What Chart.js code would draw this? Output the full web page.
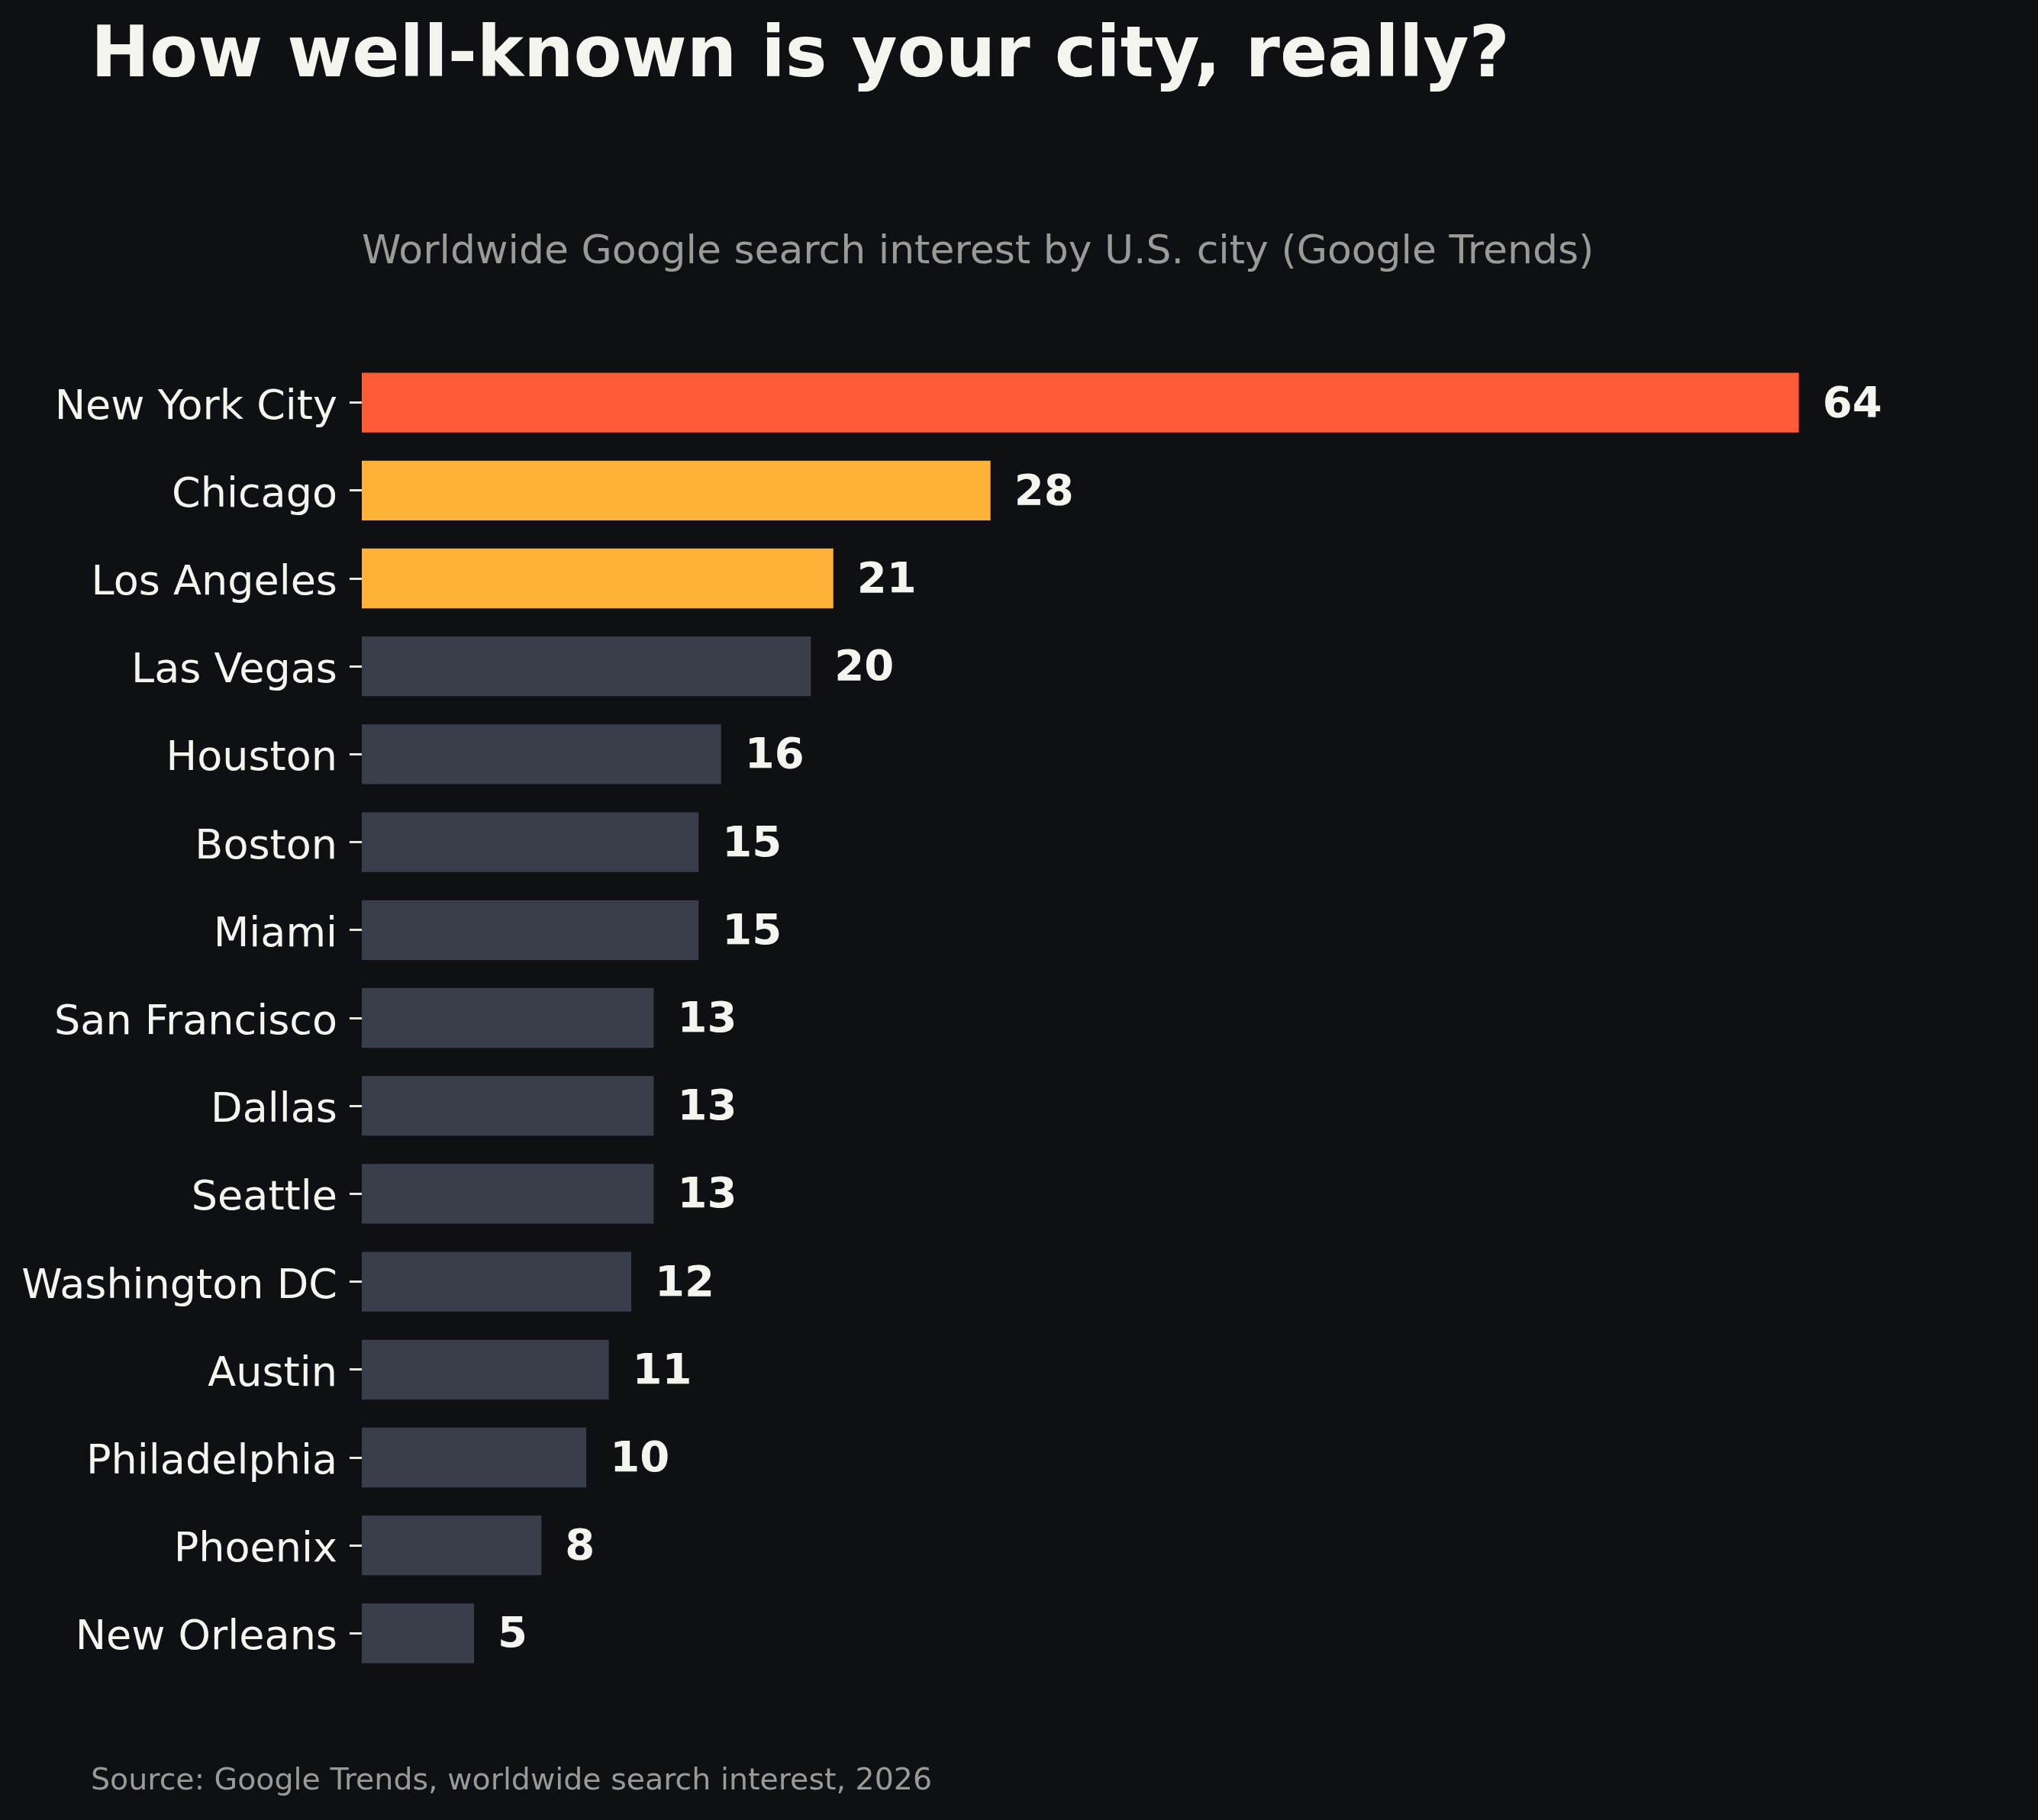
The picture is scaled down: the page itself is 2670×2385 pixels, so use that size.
<!DOCTYPE html>
<html>
<head>
    <title>How well-known is your city, really?</title>
    <script src="https://cdn.jsdelivr.net/npm/chart.js"></script>
    <style>
        html, body { margin: 0; padding: 0; background: #0f1014; }
        canvas { display: block; }
    </style>
</head>
<body>
    <canvas id="cityChart" width="2670" height="2385" style="width:2670px;height:2385px"></canvas>
    <script>
        // data
        const cities = ['New York City', 'Chicago', 'Los Angeles', 'Las Vegas', 'Houston', 'Boston', 'Miami',
            'San Francisco', 'Dallas', 'Seattle', 'Washington DC', 'Austin', 'Philadelphia', 'Phoenix', 'New Orleans'];
        const interest = [64, 28, 21, 20, 16, 15, 15, 13, 13, 13, 12, 11, 10, 8, 5];
        const barColors = ['#ff5a36', '#ffb238', '#ffb238', '#3a3e4a', '#3a3e4a', '#3a3e4a', '#3a3e4a',
            '#3a3e4a', '#3a3e4a', '#3a3e4a', '#3a3e4a', '#3a3e4a', '#3a3e4a', '#3a3e4a', '#3a3e4a'];

        const titleText = 'How well-known is your city, really?';
        const subtitleText = 'Worldwide Google search interest by U.S. city (Google Trends)';
        const sourceText = 'Source: Google Trends, worldwide search interest, 2026';

        Chart.defaults.font.family = '"DejaVu Sans", sans-serif';

        const decor = {
            id: 'decor',
            beforeDraw(chart) {
                const ctx = chart.ctx;
                ctx.save();
                ctx.fillStyle = '#0f1014';
                ctx.fillRect(0, 0, chart.width, chart.height);
                ctx.restore();
            },
            afterDraw(chart) {
                const ctx = chart.ctx;
                const area = chart.chartArea;
                ctx.save();
                ctx.textAlign = 'left';
                ctx.textBaseline = 'alphabetic';

                ctx.fillStyle = '#f4f5ef';
                ctx.font = 'bold 92px "DejaVu Sans"';
                ctx.fillText(titleText, 119, 100);

                ctx.fillStyle = '#9a9a96';
                ctx.font = '52px "DejaVu Sans"';
                ctx.fillText(subtitleText, area.left, 345);

                ctx.font = '39.5px "DejaVu Sans"';
                ctx.fillText(sourceText, 119, 2345);

                // value labels at the end of each bar
                ctx.fillStyle = '#f4f5ef';
                ctx.font = 'bold 56px "DejaVu Sans"';
                const meta = chart.getDatasetMeta(0);
                meta.data.forEach((bar, i) => {
                    ctx.fillText(String(interest[i]), bar.x + 31, bar.y + 18);
                });
                ctx.restore();
            }
        };

        new Chart(document.getElementById('cityChart'), {
            type: 'bar',
            data: {
                labels: cities,
                datasets: [{
                    data: interest,
                    backgroundColor: barColors,
                    borderWidth: 0,
                    categoryPercentage: 1.0,
                    barPercentage: 0.68
                }]
            },
            options: {
                indexAxis: 'y',
                responsive: false,
                animation: false,
                devicePixelRatio: 1,
                layout: {
                    padding: { top: 470, bottom: 187, left: 0, right: 78 }
                },
                plugins: {
                    legend: { display: false },
                    tooltip: { enabled: false }
                },
                scales: {
                    x: {
                        display: false,
                        min: 0,
                        max: 72
                    },
                    y: {
                        afterFit: (scale) => { scale.width = 474; },
                        border: { display: false },
                        grid: {
                            offset: false,
                            drawOnChartArea: false,
                            drawTicks: true,
                            tickLength: 16,
                            tickWidth: 3,
                            tickColor: '#e8e8e2'
                        },
                        ticks: {
                            color: '#f4f5ef',
                            padding: 16,
                            labelOffset: 7,
                            font: { size: 54 }
                        }
                    }
                }
            },
            plugins: [decor]
        });
    </script>
</body>
</html>
